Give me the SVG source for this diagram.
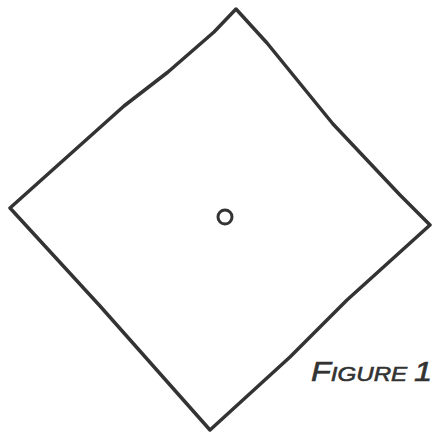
<svg xmlns="http://www.w3.org/2000/svg" width="435" height="432" viewBox="0 0 435 432">
<style>
.ink{fill:none;stroke:#333;stroke-width:3.5;stroke-linejoin:round;stroke-linecap:round}
.lbl{font-family:"Liberation Sans",Arial,sans-serif;font-style:italic;fill:#333;stroke:#333;stroke-width:0.6}
</style>
<rect width="435" height="432" fill="#fff"/>
<g id="diamond">
<path class="ink" d="M236,9 L214,32 L168,72 L124,106 L10,208 L100,306 L210,430 L290,357 L347,300 L430,225 L400,195 L333,124 L267,43 Z"/>
</g>
<g id="center">
<circle cx="225" cy="217" r="7" fill="none" stroke="#333" stroke-width="3"/>
</g>
<g id="label">
<text class="lbl" x="311" y="381" font-size="20" textLength="121" lengthAdjust="spacingAndGlyphs"><tspan font-size="27">F</tspan>IGURE <tspan font-size="27">1</tspan></text>
</g>
</svg>
